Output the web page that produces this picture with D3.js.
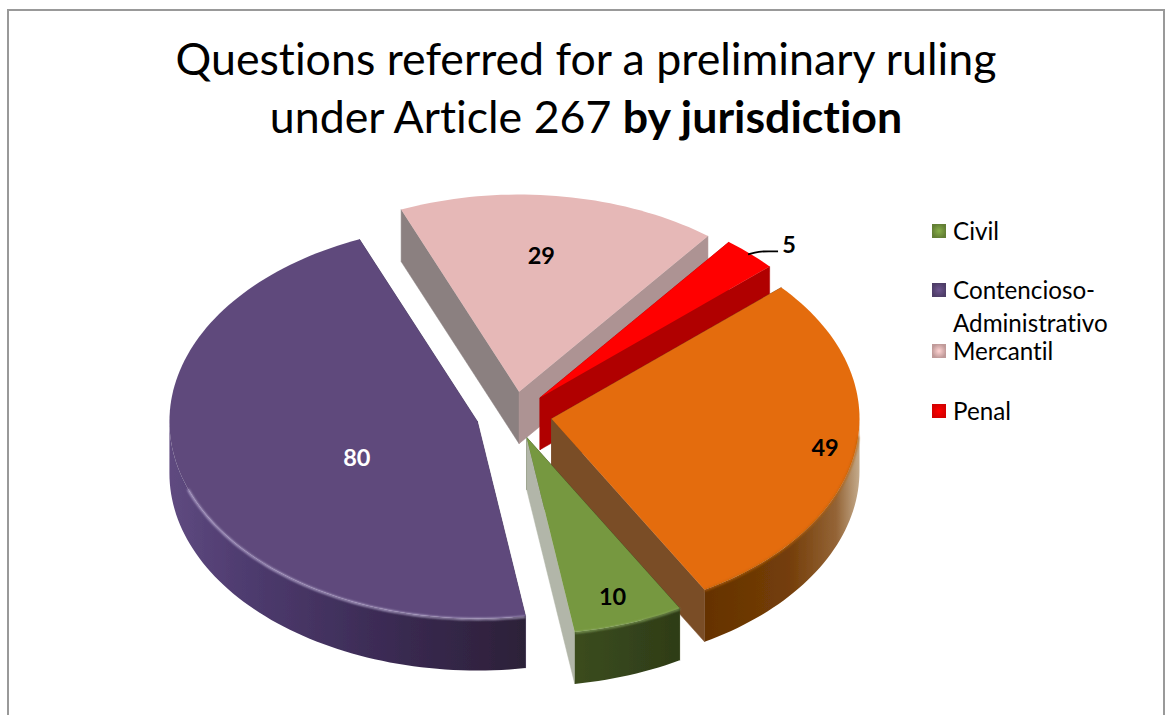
<!DOCTYPE html>
<html><head><meta charset="utf-8">
<script src="https://cdn.jsdelivr.net/npm/d3@7"></script>
<style>html,body{margin:0;padding:0;background:#fff}svg{display:block}text{font-family:Lato,"Open Sans",sans-serif;fill:#000;font-variant-ligatures:none}</style>
</head><body><svg id="c" width="1165" height="715"></svg>
<script>
const categories = ["Civil","Contencioso-Administrativo","Mercantil","Penal","Social"];
const values = [10,80,29,5,49];
const topColors = ["#76983f","#5f4a7c","#e6b8b7","#ff0000","#e46c0a"];
const rimHighlight = ["#8aa860","#c8bce0","#e6b8b7","#ff0000","#b8620f"];
const startWall = ["#3a4b1e","#3a2a52","#8b8080","#b00000","#7a4d28"];
const endWall = ["#b2b6a9","#3a2a52","#ad9393","#b00000","#7a4d28"];
const rimStops = [
  [["0","#3b4c1f"],["1","#2e3c17"]],
  [["0","#5f4a80"],["0.2","#4f3c70"],["0.6","#3b2b54"],["1","#2c2038"]],
  [["0","#8b8080"],["1","#8b8080"]],
  [["0","#b00000"],["1","#b00000"]],
  [["0","#653200"],["0.55","#743e09"],["0.85","#946436"],["1","#c4ab8c"]]
];
const labelFraction = [0.84,0.40,0.69,1.19,0.90];
const labelNudge = [[0,3],[-2,15],[-6,-1],[-1,18],[0,1]];
const labelColors = ["#000","#fff","#000","#000","#000"];
const drawOrder = [2,3,1,4,0];
const legendLines = [["Civil"],["Contencioso-","Administrativo"],["Mercantil"],["Penal"]];
const legendY = [231,290,351,411];

const cx=514, cy=415, R=308, ky=0.64, explode=38, explodeKy=0.62, depth=52;
const svg=d3.select("#c");
const rad=d=>d*Math.PI/180;
const pie=d3.pie().sort(null).startAngle(rad(150.2)).endAngle(rad(510.2));
const arcs=pie(values).map((d,i)=>({...d,i}));
const color=d3.scaleOrdinal(categories,topColors);
const line=d3.line();

const defs=svg.append("defs");
defs.append("filter").attr("id","soft").append("feGaussianBlur").attr("stdDeviation",0.45);
defs.append("filter").attr("id","glow").append("feGaussianBlur").attr("stdDeviation",0.9);

svg.append("path").attr("d",line([[8,715],[8,10],[1164,10],[1164,715]]))
  .attr("fill","none").attr("stroke","#999").attr("stroke-width",2);

const t=svg.append("text").attr("text-anchor","middle").attr("font-size",44.7);
t.append("tspan").attr("x",586).attr("y",75).text("Questions referred for a preliminary ruling");
const t2=svg.append("text").attr("x",586).attr("y",133).attr("text-anchor","middle").attr("font-size",44.7);
t2.append("tspan").text("under Article 267 ");
t2.append("tspan").attr("font-weight",700).text("by jurisdiction");

const g=svg.append("g").attr("filter","url(#soft)");
function apex(a){const m=(a.startAngle+a.endAngle)/2;
  return [cx+explode*Math.sin(m),cy-explode*explodeKy*Math.cos(m)];}
function pt(c,th,r=R,dz=0){return [c[0]+r*Math.sin(th),c[1]-r*ky*Math.cos(th)+dz];}
function samples(a0,a1){const n=Math.max(2,Math.ceil((a1-a0)/rad(1.5)));
  return d3.range(n+1).map(k=>a0+(a1-a0)*k/n);}

drawOrder.forEach(idx=>{
  const a=arcs[idx], c=apex(a);
  const wall=(th,col)=>g.append("path")
    .attr("d",line([c,pt(c,th),pt(c,th,R,depth),[c[0],c[1]+depth]])+"Z")
    .attr("fill",col).attr("stroke",col).attr("stroke-width",0.5);
  wall(a.startAngle,startWall[idx]);
  wall(a.endAngle,endWall[idx]);

  [[rad(90),rad(270)],[rad(450),rad(630)]].forEach(([lo,hi])=>{
    const a0=Math.max(a.startAngle,lo), a1=Math.min(a.endAngle,hi);
    if(a1<=a0) return;
    const ths=samples(a0,a1);
    const topE=ths.map(th=>pt(c,th));
    const botE=ths.map(th=>pt(c,th,R,depth)).reverse();
    const xs=topE.map(p=>p[0]);
    const id="rim"+idx;
    const lg=defs.append("linearGradient").attr("id",id).attr("gradientUnits","userSpaceOnUse")
      .attr("x1",d3.min(xs)).attr("x2",d3.max(xs)).attr("y1",0).attr("y2",0);
    rimStops[idx].forEach(s=>lg.append("stop").attr("offset",s[0]).attr("stop-color",s[1]));
    g.append("path").attr("d",line(topE.concat(botE))+"Z").attr("fill",`url(#${id})`);
  });

  const ths=samples(a.startAngle,a.endAngle);
  g.append("path").attr("d",line([c].concat(ths.map(th=>pt(c,th))))+"Z")
    .attr("fill",color(categories[idx]));
  if(idx<2||idx===4){
    const l2=idx===4?rad(455):Math.max(a.startAngle,rad(110)), h2=idx===4?a.endAngle:Math.min(a.endAngle,rad(250));
    g.append("path").attr("d",line(samples(l2,h2).map(th=>pt(c,th,R,0.6))))
      .attr("fill","none").attr("stroke",rimHighlight[idx]).attr("stroke-width",1.6)
      .attr("filter","url(#glow)");
  }
});

arcs.forEach(a=>{
  const m=(a.startAngle+a.endAngle)/2, c=apex(a), q=pt(c,m,R*labelFraction[a.i]);
  const p=[q[0]+labelNudge[a.i][0],q[1]+labelNudge[a.i][1]];
  svg.append("text").attr("x",p[0]).attr("y",p[1]).attr("dy","0.35em")
    .attr("text-anchor","middle").attr("font-size",23.5).attr("font-weight",700)
    .style("fill",labelColors[a.i]).text(values[a.i]);
  if(a.i===3){
    svg.append("path").attr("d",d3.line().curve(d3.curveBasis)([[p[0]-41,p[1]+10],[p[0]-30,p[1]+7],[p[0]-20,p[1]+7],[p[0]-11,p[1]+7]]))
      .attr("fill","none").attr("stroke","#000").attr("stroke-width",1.8);
  }
});

legendLines.forEach((ls,i)=>{
  const y=legendY[i];
  const gid="sw"+i;
  const rg=defs.append("radialGradient").attr("id",gid);
  rg.append("stop").attr("offset","0").attr("stop-color",d3.color(topColors[i]).brighter(0.4));
  rg.append("stop").attr("offset","1").attr("stop-color",d3.color(topColors[i]).darker(0.5));
  svg.append("rect").attr("x",932).attr("y",y-7).attr("width",14).attr("height",14).attr("fill",`url(#${gid})`);
  ls.forEach((s,k)=>svg.append("text").attr("x",953).attr("y",y+9+k*33).attr("font-size",24.2).text(s));
});
</script></body></html>
